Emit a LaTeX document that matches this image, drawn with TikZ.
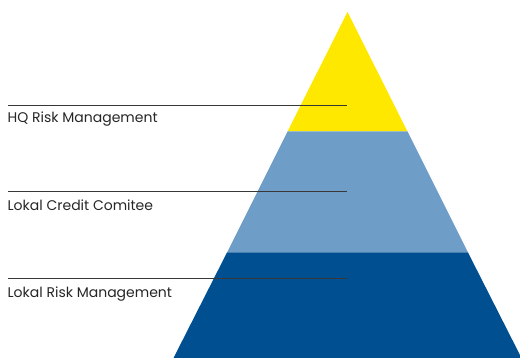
\documentclass[tikz,border=0pt]{standalone}
\usepackage{fontspec}
\setmainfont{Poppins}
\usetikzlibrary{calc}

\definecolor{topyellow}{RGB}{255,232,0}
\definecolor{midblue}{RGB}{110,158,200}
\definecolor{lowblue}{RGB}{0,80,145}
\definecolor{leadgray}{RGB}{55,55,55}

\tikzset{
  leader/.style={draw=leadgray, line width=0.8pt},
  tag/.style={anchor=base west, inner sep=0pt, font=\fontsize{14}{16}\selectfont, text=black!85}
}

\begin{document}
\begin{tikzpicture}[x=1pt,y=-1pt]
          \useasboundingbox (0,0) rectangle (520,358);

          % pyramid levels
          \fill [topyellow] (347.5,12) -- (407.5,131.5) -- (287.5,131.5) -- cycle;
          \fill [midblue] (287.5,131.5) -- (407.5,131.5) -- (468,252.5) -- (227,252.5) -- cycle;
          \fill [lowblue] (227,252.5) -- (468,252.5) -- (521.5,358) -- (173.5,358) -- cycle;

          \coordinate (hq1) at (8,105);
          \coordinate (hq2) at (347,105);
          \coordinate (cc1) at (8,191.5);
          \coordinate (cc2) at (347,191.5);
          \coordinate (lr1) at (8,278);
          \coordinate (lr2) at (347,278);

          \node [tag] (hq) at (7.5,122.3) {HQ Risk Management};
          \node [tag] (cc) at (7.5,210.5) {Lokal Credit Comitee};
          \node [tag] (lr) at (7.5,297.3) {Lokal Risk Management};

          \draw [leader] (hq1) -- (hq2);
          \draw [leader] (cc1) -- (cc2);
          \draw [leader] (lr1) -- (lr2);

      \end{tikzpicture}
\end{document}
